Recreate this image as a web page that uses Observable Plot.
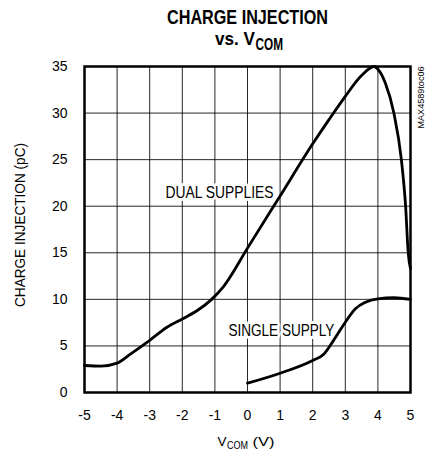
<!DOCTYPE html>
<html><head><meta charset="utf-8">
<script src="https://cdn.jsdelivr.net/npm/d3@7"></script>
<script src="https://cdn.jsdelivr.net/npm/@observablehq/plot@0.6"></script>
<style>body{margin:0;background:#fff}</style>
</head><body><div id="chart"></div><script>
// ---- data ----
const dualX = [-5, -4.5, -4, -3.58, -3, -2.47, -2, -1.54, -1.1, -0.73, 0, 1, 2, 2.5, 3, 3.49, 3.88, 4, 4.23, 4.49, 4.72, 4.85, 4.93, 5];
const dualY = [2.9, 2.83, 3.15, 4.15, 5.6, 7.0, 7.9, 8.8, 10.0, 11.4, 15.5, 21.1, 26.7, 29.3, 31.8, 34.0, 35, 34.7, 33.2, 30, 25, 20, 15, 13.3];
const singleX = [0, 1, 2, 2.33, 2.64, 3, 3.31, 3.62, 4, 4.49, 5];
const singleY = [1.0, 2.07, 3.44, 4.08, 5.6, 7.55, 9.0, 9.7, 10.06, 10.17, 10.0];
const xTicks = [-5, -4, -3, -2, -1, 0, 1, 2, 3, 4, 5];
const yTicks = [0, 5, 10, 15, 20, 25, 30, 35];
const curveLabels = ["DUAL SUPPLIES", "SINGLE SUPPLY"];
const curveLabelX = [-0.86, 1.04];
const curveLabelY = [21.5, 6.6];
const titleLine1 = "CHARGE INJECTION";
const titleLine2 = ["vs. V", "COM"];
const xLabel = ["V", "COM", "(V)"];
const yLabel = "CHARGE INJECTION (pC)";
const watermark = "MAX4589toc06";

const dual = dualX.map((x, i) => ({x, y: dualY[i]}));
const single = singleX.map((x, i) => ({x, y: singleY[i]}));
const labels = curveLabels.map((t, i) => ({t, x: curveLabelX[i], y: curveLabelY[i]}));

const narrow = "'Liberation Sans Narrow', 'Liberation Sans', Arial, sans-serif";

const chart = Plot.plot({
  width: 431, height: 455,
  marginLeft: 84, marginRight: 21, marginTop: 66, marginBottom: 63,
  style: {fontFamily: "'Liberation Sans', Arial, sans-serif", fontSize: "14px", color: "#000", background: "#fff"},
  x: {domain: [-5, 5], label: null},
  y: {domain: [0, 35], label: null},
  marks: [
    Plot.gridX(xTicks.slice(1, -1), {stroke: "#000", strokeOpacity: 0.85, strokeWidth: 1}),
    Plot.gridY(yTicks.slice(1, -1), {stroke: "#000", strokeOpacity: 0.85, strokeWidth: 1}),
    Plot.axisX(xTicks, {tickSize: 0, tickPadding: 18, fontSize: 14, label: null, tickFormat: d => String(d)}),
    Plot.axisY(yTicks, {tickSize: 0, tickPadding: 17, fontSize: 14, label: null, tickFormat: d => String(d)}),
    Plot.line(dual, {x: "x", y: "y", curve: "monotone-x", stroke: "#000", strokeWidth: 2.8}),
    Plot.line(single, {x: "x", y: "y", curve: "monotone-x", stroke: "#000", strokeWidth: 2.8}),
    Plot.text(labels, {x: "x", y: "y", text: "t", fill: "#000", stroke: "#fff", strokeWidth: 6, fontSize: 17, fontFamily: narrow}),
    Plot.frame({stroke: "#000", strokeWidth: 2.5})
  ]
});

const s = d3.select(chart);
// squeeze the curve labels to the reference's condensed widths
const labelWidths = [108, 106];
s.selectAll('g[aria-label="text"] text').each(function(d, i) {
  d3.select(this).attr("textLength", labelWidths[i]).attr("lengthAdjust", "spacingAndGlyphs");
});

function addText(x, y, str, opts) {
  const t = s.append("text").attr("x", x).attr("y", y).attr("fill", "#000")
    .attr("font-family", narrow).attr("text-anchor", opts.anchor || "start")
    .attr("font-size", opts.size);
  if (opts.bold) t.attr("font-weight", "bold");
  if (opts.len) t.attr("textLength", opts.len).attr("lengthAdjust", "spacingAndGlyphs");
  if (opts.transform) t.attr("transform", opts.transform);
  t.text(str);
  return t;
}

addText(247.5, 24, titleLine1, {anchor: "middle", size: 21, bold: true, len: 161});
addText(255, 45, titleLine2[0], {anchor: "end", size: 19, bold: true, len: 40});
addText(255.5, 50, titleLine2[1], {anchor: "start", size: 16, bold: true, len: 27.5});

addText(226.5, 446, xLabel[0], {anchor: "end", size: 13.5});
addText(227, 448.5, xLabel[1], {anchor: "start", size: 10.5, len: 21});
addText(252.5, 446, xLabel[2], {anchor: "start", size: 13.5, len: 22});

addText(0, 0, yLabel, {anchor: "middle", size: 15, len: 164, transform: "translate(25,225) rotate(-90)"});
addText(0, 0, watermark, {anchor: "middle", size: 9, len: 62, transform: "translate(423.5,97.5) rotate(-90)"});

document.getElementById("chart").appendChild(chart);
</script></body></html>
